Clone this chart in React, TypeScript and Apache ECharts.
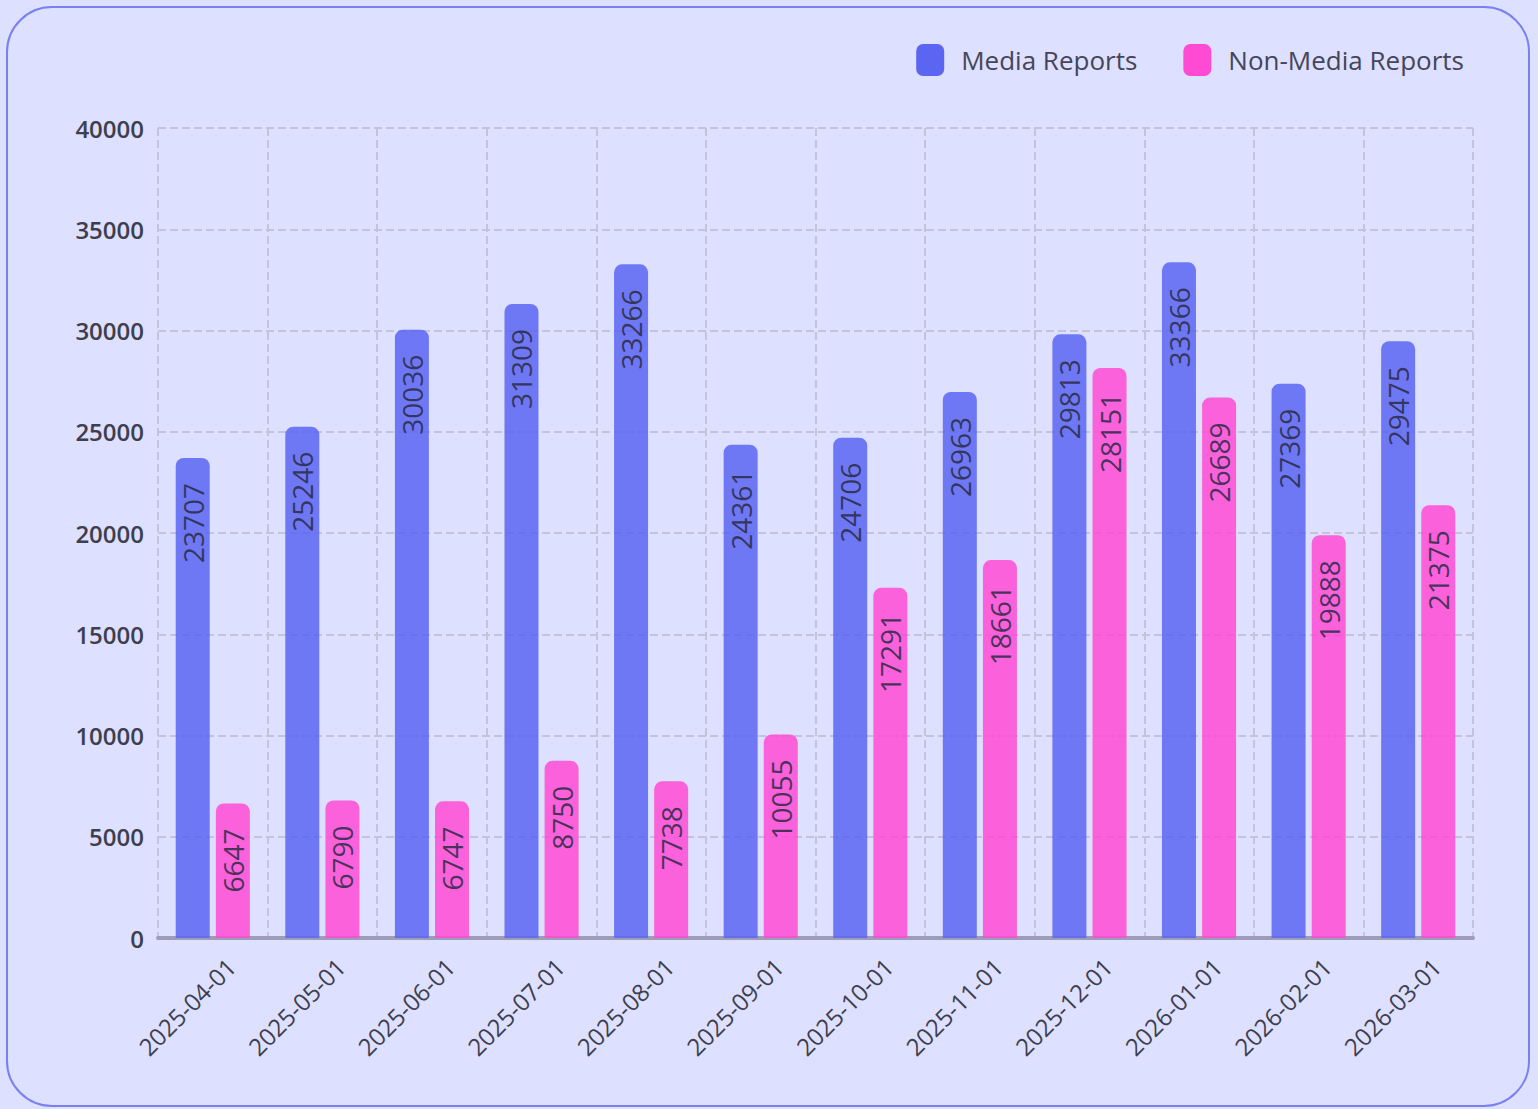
import React, { useEffect, useRef } from "react";
import * as echarts from "echarts";

const categories = [
  "2025-04-01", "2025-05-01", "2025-06-01", "2025-07-01", "2025-08-01", "2025-09-01",
  "2025-10-01", "2025-11-01", "2025-12-01", "2026-01-01", "2026-02-01", "2026-03-01",
];
const mediaReports = [23707, 25246, 30036, 31309, 33266, 24361, 24706, 26963, 29813, 33366, 27369, 29475];
const nonMediaReports = [6647, 6790, 6747, 8750, 7738, 10055, 17291, 18661, 28151, 26689, 19888, 21375];
const seriesNames = ["Media Reports", "Non-Media Reports"];

const FONT = "'Open Sans', 'Noto Sans', sans-serif";

export default function App() {
  const ref = useRef<HTMLDivElement>(null);
  useEffect(() => {
    document.body.style.margin = "0";
    document.body.style.background = "#dde0fe";
    const chart = echarts.init(ref.current!, undefined, { renderer: "svg" });
    const label = {
      show: true,
      position: "insideTop",
      distance: 25,
      rotate: 90,
      align: "right",
      verticalAlign: "middle",
      color: "#2a2a45",
      fontSize: 28,
      fontFamily: FONT,
    };
    chart.setOption({
      animation: false,
      backgroundColor: "transparent",
      textStyle: { fontFamily: FONT },
      legend: {
        right: 69,
        top: 39,
        itemWidth: 28,
        itemHeight: 32,
        itemGap: 46,
        icon: "roundRect",
        itemStyle: { opacity: 1 },
        textStyle: { fontSize: 26, color: "#45455a", fontFamily: FONT, padding: [0, 0, 0, 12] },
        data: seriesNames,
      },
      grid: { left: 158, right: 65, top: 128, bottom: 171, containLabel: false },
      xAxis: {
        type: "category",
        data: categories,
        axisLine: { show: true, lineStyle: { color: "#9d9dba", width: 4 } },
        axisTick: { show: false },
        splitLine: { show: true, lineStyle: { type: "dashed", color: "#c3c3da", width: 2 } },
        axisLabel: {
          rotate: 45,
          margin: 6,
          fontSize: 24,
          color: "#3e3e4e",
          fontFamily: FONT,
          interval: 0,
          verticalAlign: "top",
          padding: [14, 0, 0, 0],
        },
      },
      yAxis: {
        type: "value",
        min: 0,
        max: 40000,
        interval: 5000,
        axisLine: { show: false },
        axisTick: { show: false },
        splitLine: { show: true, lineStyle: { type: "dashed", color: "#c3c3da", width: 2 } },
        axisLabel: {
          margin: 14,
          fontSize: 24,
          fontWeight: 600,
          color: "#3e3e4e",
          fontFamily: FONT,
          formatter: (v: number) => String(v),
        },
      },
      series: [
        {
          name: seriesNames[0],
          type: "bar",
          data: mediaReports,
          barWidth: 34,
          barGap: "18%",
          itemStyle: { color: "#5a65f2", opacity: 0.85, borderRadius: [8, 8, 0, 0] },
          label,
        },
        {
          name: seriesNames[1],
          type: "bar",
          data: nonMediaReports,
          barWidth: 34,
          itemStyle: { color: "#ff4ad4", opacity: 0.85, borderRadius: [8, 8, 0, 0] },
          label,
        },
      ],
    });
    return () => chart.dispose();
  }, []);
  return (
    <div style={{ position: "relative", width: 1538, height: 1109, background: "#dde0fe" }}>
      <div
        style={{
          position: "absolute",
          left: 6,
          top: 6,
          width: 1524,
          height: 1101,
          border: "2px solid #7880f2",
          borderRadius: 46,
          boxSizing: "border-box",
        }}
      />
      <div ref={ref} style={{ position: "absolute", left: 0, top: 0, width: 1538, height: 1109 }} />
    </div>
  );
}
